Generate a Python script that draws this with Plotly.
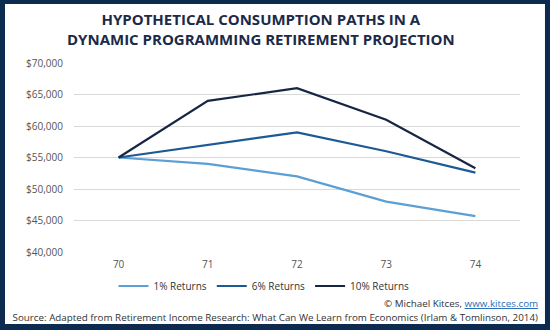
import plotly.graph_objects as go

# Retirement ages and projected annual consumption by return scenario
ages = ["70", "71", "72", "73", "74"]
returns_1 = [55000, 54000, 52000, 48000, 45700]
returns_6 = [55000, 57000, 59000, 56000, 52600]
returns_10 = [55000, 64000, 66000, 61000, 53300]
series_names = ["1% Returns", "6% Returns", "10% Returns"]
series_colors = ["#5b9fd4", "#1d5a94", "#172743"]
y_ticks = [40000, 45000, 50000, 55000, 60000, 65000, 70000]

NAVY = "#0d2b4e"
FONT = "Open Sans"

fig = go.Figure()
for name, vals, col in zip(series_names, [returns_1, returns_6, returns_10], series_colors):
    fig.add_trace(go.Scatter(
        x=ages, y=vals, name=name, mode="lines",
        line=dict(color=col, width=2.2),
        hoverinfo="skip",
    ))

# White card on a navy frame
fig.add_shape(type="rect", xref="paper", yref="paper",
              x0=-0.1547, x1=1.056, y0=-0.381, y1=1.312,
              fillcolor="white", line=dict(width=0), layer="below")

fig.add_annotation(
    xref="paper", yref="paper", x=0.419, y=1.295, xanchor="center", yanchor="top",
    text="<b>HYPOTHETICAL CONSUMPTION PATHS IN A<br>DYNAMIC PROGRAMMING RETIREMENT PROJECTION</b>",
    showarrow=False, align="center",
    font=dict(family=FONT, size=15, color="#1b2a48"),
)
fig.add_annotation(
    xref="paper", yref="paper", x=1.045, y=-0.27, xanchor="right", yanchor="middle",
    text='© Michael Kitces, <span style="color:#2a6fb8;text-decoration:underline">www.kitces.com</span>',
    showarrow=False, font=dict(family=FONT, size=9.8, color="#333333"),
)
fig.add_annotation(
    xref="paper", yref="paper", x=1.045, y=-0.345, xanchor="right", yanchor="middle",
    text="Source: Adapted from Retirement Income Research: What Can We Learn from Economics (Irlam & Tomlinson, 2014)",
    showarrow=False, font=dict(family=FONT, size=9.8, color="#333333"),
    width=540, align="right",
)

fig.update_xaxes(
    type="category", range=[-0.5, 4.5], showgrid=False, zeroline=False,
    showline=False, ticks="", ticklabelstandoff=5,
    tickfont=dict(family=FONT, size=10, color="#555555"),
)
fig.update_yaxes(
    range=[40000, 70000], tickvals=y_ticks, tickformat="$,.0f",
    showgrid=True, gridcolor="#d9d9d9", gridwidth=1, zeroline=False,
    showline=False, ticks="", ticklabelstandoff=10,
    tickfont=dict(family=FONT, size=10, color="#555555"),
)

fig.update_layout(
    width=550, height=330,
    margin=dict(l=74, r=30, t=63, b=78),
    paper_bgcolor=NAVY, plot_bgcolor="white",
    showlegend=True,
    legend=dict(orientation="h", x=0.426, xanchor="center", y=-0.18, yanchor="middle",
                font=dict(family=FONT, size=10, color="#333333"),
                bgcolor="rgba(0,0,0,0)", itemwidth=30),
)

fig.write_html("out.html")
